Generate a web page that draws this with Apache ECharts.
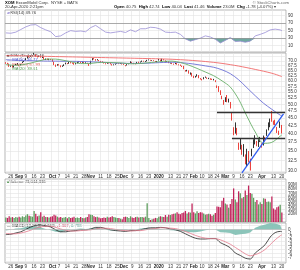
<!DOCTYPE html>
<html>
<head>
<meta charset="utf-8">
<script src="https://cdn.jsdelivr.net/npm/echarts@6.0.0/dist/echarts.min.js"></script>
<style>
  html, body { margin: 0; padding: 0; background: #fff; }
  #chart { width: 300px; height: 270px; }
</style>
</head>
<body>
<div id="chart"></div>
<script>
// trading calendar (weekends and these market holidays skipped)
const holidays = ['2019-09-02', '2019-11-28', '2019-12-25', '2020-01-01', '2020-01-20', '2020-02-17', '2020-04-10'];
function tradingDays (from, to) {
  const out = [];
  const d = new Date(from + 'T12:00:00Z');
  const end = new Date(to + 'T12:00:00Z');
  while (d <= end) {
    const s = d.toISOString().slice(0, 10);
    const wd = d.getUTCDay();
    if (wd !== 0 && wd !== 6 && holidays.indexOf(s) < 0) out.push(s);
    d.setUTCDate(d.getUTCDate() + 1);
  }
  return out;
}
const dates = tradingDays('2019-08-21', '2020-04-20');
const categories = dates.concat(['pad1', 'pad2']);

// bottom axis labels
const tickDates = ['2019-08-26', '2019-09-03', '2019-09-09', '2019-09-16', '2019-09-23', '2019-10-01', '2019-10-07', '2019-10-14', '2019-10-21', '2019-10-28',
  '2019-11-01', '2019-11-11', '2019-11-18', '2019-11-25', '2019-12-02', '2019-12-09', '2019-12-16', '2019-12-23', '2020-01-02', '2020-01-13',
  '2020-01-21', '2020-01-27', '2020-02-03', '2020-02-10', '2020-02-18', '2020-02-24', '2020-03-02', '2020-03-09', '2020-03-16', '2020-03-23',
  '2020-04-01', '2020-04-13', '2020-04-20']
const tickText = ['26', 'Sep', '9', '16', '23', 'Oct', '7', '14', '21', '28',
  'Nov', '11', '18', '25', 'Dec', '9', '16', '23', '2020', '13',
  '21', '27', 'Feb', '10', '18', '24', 'Mar', '9', '16', '23',
  'Apr', '13', '20']

const priceTicks = [30, 32.5, 35, 37.5, 40, 42.5, 45, 47.5, 50, 52.5, 55, 57.5, 60, 62.5, 65, 67.5, 70, 72.5]
const rsiTicks = [10, 30, 50, 70, 90]
const volTicks = [10, 20, 30, 40, 50, 60, 70, 80, 90, 100]
const macdTicks = [1, 0, -1, -2, -3, -4, -5, -6, -7, -8]

// daily prices
const opens = [
  68.9, 68.7, 68.2, 67.0, 67.6, 66.6, 67.8, 68.3, 67.9, 67.8,
  68.9, 69.5, 70.4, 71.4, 72.4, 72.3, 72.5, 74.2, 73.4, 72.5,
  72.2, 72.4, 71.6, 72.0, 70.6, 71.0, 70.9, 70.8, 70.7, 69.4,
  67.8, 67.6, 67.9, 67.5, 67.0, 67.4, 68.3, 68.5, 68.6, 69.1,
  68.9, 68.7, 68.3, 68.7, 69.1, 69.5, 69.0, 69.3, 68.6, 68.8,
  68.3, 68.2, 70.3, 71.1, 70.8, 70.5, 70.3, 69.8, 69.6, 68.9,
  68.6, 68.5, 68.9, 68.8, 68.1, 67.8, 68.0, 68.4, 68.5, 68.4,
  68.6, 68.2, 67.6, 67.7, 68.2, 68.9, 69.3, 68.8, 68.5, 68.4,
  69.3, 69.1, 69.5, 69.9, 69.5, 69.8, 70.3, 70.4, 70.1, 70.2,
  69.9, 69.3, 70.2, 70.0, 70.0, 70.8, 70.1, 69.6, 69.5, 68.8,
  68.9, 68.4, 68.3, 68.8, 67.8, 67.9, 67.3, 67.2, 65.0, 64.8,
  64.9, 63.0, 63.6, 62.2, 61.9, 62.1, 62.6, 61.1, 60.6, 60.8,
  61.6, 61.5, 61.1, 61.1, 60.9, 60.4, 60.2, 57.6, 57.4, 55.6,
  52.6, 50.5, 51.9, 52.9, 51.9, 50.9, 46.8, 40.7, 42.4, 41.4,
  37.0, 37.8, 34.8, 35.6, 33.6, 31.4, 34.4, 31.8, 34.0, 36.4,
  37.1, 37.6, 36.4, 38.4, 36.6, 36.7, 38.8, 39.6, 43.0, 42.1,
  45.6, 43.6, 44.2, 42.0, 40.2, 42.0, 40.75]
const closes = [
  68.6, 68.4, 66.9, 67.2, 66.7, 67.3, 68.1, 68.5, 67.4, 68.1,
  69.3, 69.6, 71.2, 72.3, 72.0, 72.6, 72.7, 73.6, 72.6, 72.1,
  72.6, 71.8, 72.0, 70.8, 71.0, 70.7, 70.7, 70.6, 69.6, 67.9,
  67.5, 68.0, 67.7, 66.7, 67.3, 67.9, 68.6, 68.4, 69.3, 68.8,
  68.6, 68.1, 68.6, 69.2, 69.6, 68.9, 69.4, 68.7, 68.9, 68.5,
  67.6, 69.8, 71.1, 70.9, 70.2, 70.4, 70.0, 69.6, 69.1, 68.7,
  68.3, 69.0, 68.7, 68.2, 67.7, 67.9, 68.3, 68.5, 68.4, 68.6,
  68.1, 68.0, 67.4, 68.0, 68.4, 69.5, 68.9, 68.4, 68.3, 69.2,
  68.9, 69.4, 69.9, 69.6, 69.7, 70.2, 70.5, 70.1, 70.1, 69.9,
  69.5, 69.8, 70.9, 70.3, 70.9, 70.3, 69.3, 69.5, 68.8, 68.8,
  68.3, 68.1, 68.7, 68.0, 67.9, 67.4, 66.9, 65.8, 64.7, 64.8,
  63.6, 63.8, 62.1, 61.5, 61.9, 62.9, 61.3, 60.9, 60.6, 61.5,
  61.8, 61.0, 61.1, 60.7, 60.6, 60.7, 59.8, 57.0, 55.3, 54.0,
  52.4, 51.4, 52.7, 51.1, 52.0, 48.9, 45.3, 40.9, 42.5, 39.8,
  35.6, 38.0, 34.5, 35.4, 32.1, 34.5, 32.4, 31.5, 35.4, 37.4,
  39.2, 36.5, 37.9, 38.0, 36.4, 38.9, 38.3, 40.9, 41.2, 44.5,
  44.0, 43.5, 43.0, 40.5, 40.4, 43.2, 41.46]
const highs = [
  69.2, 68.9, 68.5, 67.5, 67.7, 67.5, 68.3, 68.7, 68.0, 68.3,
  69.6, 69.9, 71.4, 72.5, 72.6, 72.8, 73.0, 74.4, 73.5, 72.7,
  72.9, 72.5, 72.3, 72.1, 71.2, 71.2, 71.1, 71.0, 70.9, 69.5,
  68.0, 68.2, 68.2, 67.6, 67.5, 68.1, 69.0, 68.8, 69.6, 69.3,
  69.1, 68.9, 68.8, 69.5, 69.8, 69.6, 69.6, 69.4, 69.2, 68.9,
  68.4, 70.0, 71.4, 71.6, 70.9, 70.9, 70.4, 69.9, 69.7, 69.1,
  68.7, 69.2, 69.1, 68.9, 68.2, 68.1, 68.5, 68.7, 68.7, 68.8,
  68.7, 68.4, 67.7, 68.2, 68.6, 69.7, 69.4, 68.9, 68.6, 69.4,
  69.5, 69.6, 70.1, 70.0, 69.9, 70.5, 70.7, 70.5, 70.3, 70.3,
  69.9, 69.9, 71.0, 70.6, 71.1, 70.9, 70.2, 69.8, 69.7, 69.0,
  68.9, 68.5, 68.9, 68.9, 68.1, 68.0, 67.4, 67.3, 65.2, 65.3,
  65.0, 64.0, 63.8, 62.4, 62.3, 63.1, 62.7, 61.3, 60.9, 61.7,
  62.0, 61.6, 61.4, 61.2, 61.0, 60.9, 60.3, 57.9, 57.6, 55.8,
  53.5, 51.8, 52.9, 53.8, 52.3, 51.0, 46.9, 42.0, 43.6, 41.8,
  37.3, 38.6, 36.7, 36.9, 34.1, 35.6, 35.0, 33.0, 35.6, 38.3,
  39.5, 37.8, 38.3, 39.0, 37.1, 39.4, 39.0, 41.3, 43.6, 44.9,
  47.6, 44.2, 44.5, 42.1, 40.9, 43.9, 42.74]
const lows = [
  68.4, 68.2, 66.8, 66.8, 66.5, 66.5, 67.7, 68.0, 67.2, 67.6,
  68.8, 69.3, 70.3, 71.2, 71.8, 72.1, 72.4, 73.3, 72.3, 71.8,
  72.0, 71.7, 71.5, 70.6, 70.4, 70.4, 70.3, 70.4, 69.5, 67.7,
  66.8, 67.4, 67.5, 66.6, 66.8, 67.2, 68.1, 68.2, 68.4, 68.6,
  68.4, 67.9, 68.1, 68.6, 69.0, 68.8, 68.9, 68.6, 68.5, 68.3,
  67.3, 68.1, 70.2, 70.7, 70.0, 70.2, 69.8, 69.4, 69.0, 68.5,
  68.1, 68.4, 68.5, 68.1, 67.5, 67.6, 67.9, 68.3, 68.2, 68.3,
  68.0, 67.8, 67.1, 67.5, 68.1, 68.8, 68.8, 68.2, 68.1, 68.3,
  68.8, 69.0, 69.4, 69.5, 69.4, 69.7, 70.2, 70.0, 69.9, 69.8,
  69.3, 69.2, 70.1, 69.8, 69.8, 70.2, 69.1, 69.3, 68.7, 68.5,
  68.2, 67.9, 68.2, 67.9, 67.6, 67.3, 66.7, 65.6, 64.4, 64.5,
  63.4, 62.9, 62.0, 61.3, 61.5, 62.0, 61.2, 60.6, 60.2, 60.7,
  61.4, 60.9, 60.8, 60.5, 60.4, 60.2, 59.4, 56.8, 55.1, 53.8,
  52.1, 49.9, 51.0, 50.9, 50.8, 48.5, 44.2, 39.5, 40.0, 39.5,
  35.3, 35.4, 34.0, 33.5, 31.6, 31.1, 32.1, 30.11, 33.6, 35.8,
  36.8, 36.3, 36.1, 37.5, 35.9, 36.5, 37.6, 39.3, 41.0, 42.0,
  43.8, 42.8, 42.7, 40.2, 39.6, 41.8, 40.04]
// volume, millions of shares
const volumes = [
  11, 10, 14, 11, 12, 10, 12, 11, 13, 11,
  14, 12, 16, 19, 15, 14, 13, 27, 20, 14,
  16, 24, 13, 15, 12, 12, 11, 13, 14, 18,
  16, 13, 11, 12, 10, 11, 12, 9, 12, 10,
  11, 13, 10, 11, 10, 12, 10, 9, 11, 12,
  19, 18, 17, 14, 12, 13, 11, 9, 10, 11,
  10, 13, 11, 12, 14, 12, 11, 10, 10, 8,
  7, 12, 13, 12, 10, 14, 11, 10, 12, 13,
  11, 12, 12, 11, 13, 46, 10, 5, 7, 8,
  10, 9, 13, 14, 13, 12, 17, 13, 18, 17,
  19, 20, 21, 24, 20, 19, 22, 23, 27, 21,
  24, 23, 45, 24, 21, 26, 22, 24, 23, 21,
  18, 19, 20, 19, 15, 18, 22, 38, 37, 36,
  52, 59, 45, 43, 35, 44, 56, 82, 55, 48,
  75, 70, 58, 61, 77, 66, 89, 71, 69, 59,
  49, 54, 43, 48, 44, 58, 57, 49, 50, 48,
  62, 33, 30, 36, 38, 42, 23]

// moving averages read every 5th / 10th session, last value on the final session
const ma50 = [70.6, 70.3, 70.1, 70.0, 69.9, 69.8, 69.8, 69.7, 69.7, 69.6, 69.5, 69.3, 69.1, 68.8, 68.7, 68.6, 68.6, 68.7,
  68.9, 69.1, 69.2, 69.0, 68.6, 68.0, 67.3, 66.6, 65.3, 63.4, 60.5, 56.9, 53.5, 50.5, 48.2, 46.1, 45.8]
const ma20 = [68.0, 67.6, 67.9, 68.8, 69.9, 70.9, 70.9, 70.2, 69.3, 68.5, 68.5, 69.0, 69.1, 69.0, 68.8, 68.4, 68.5, 68.9,
  69.3, 69.7, 69.8, 69.1, 67.7, 66.0, 64.2, 62.4, 60.0, 57.2, 52.1, 45.7, 40.5, 37.1, 37.4, 39.2, 39.6]
const ma200 = [72.8, 72.7, 72.5, 72.3, 72.1, 71.9, 71.7, 71.5, 71.3, 71.1, 70.8, 70.3, 69.6, 68.6, 67.2, 65.5, 63.6, 62.0]

// indicators read every 3rd session
const rsi = [44, 43, 46, 53, 60, 65, 66, 58, 52, 47,
  34, 36, 44, 50, 48, 49, 47, 58, 64, 55,
  46, 44, 46, 48, 45, 52, 47, 55, 55, 59,
  58, 54, 46, 45, 46, 40, 28, 22, 26, 30,
  36, 33, 27, 17, 24, 32, 21, 22, 19, 22,
  36, 40, 45, 52, 54, 52, 49.76]
const macd = [-1.3, -1.2, -0.9, -0.6, 0.0, 0.6, 1.0, 1.1, 0.9, 0.6,
  -0.1, -0.6, -0.6, -0.4, -0.3, -0.1, -0.1, 0.1, 0.5, 0.5,
  0.2, -0.1, -0.3, -0.4, -0.5, -0.3, -0.3, -0.1, 0.2, 0.4,
  0.4, 0.5, 0.4, 0.1, -0.1, -0.5, -1.1, -1.7, -2.2, -2.4,
  -2.4, -2.3, -2.3, -3.3, -3.9, -4.6, -5.9, -6.5, -7.2, -7.4,
  -5.9, -4.9, -3.8, -1.9, -0.8, -0.5, -0.569]
const signal = [-1.0, -1.1, -1.1, -0.9, -0.6, -0.2, 0.3, 0.6, 0.8, 0.8,
  0.5, 0.1, -0.2, -0.4, -0.4, -0.3, -0.2, -0.1, 0.1, 0.3,
  0.3, 0.2, 0.0, -0.2, -0.3, -0.4, -0.3, -0.3, -0.1, 0.1,
  0.2, 0.4, 0.4, 0.3, 0.2, -0.1, -0.5, -1.0, -1.5, -1.9,
  -2.2, -2.3, -2.3, -2.6, -3.1, -3.7, -4.5, -5.3, -6.1, -6.6,
  -6.3, -5.8, -5.0, -3.8, -2.6, -1.6, -1.367]
const hist = [-0.3, -0.1, 0.2, 0.3, 0.6, 0.8, 0.7, 0.5, 0.1, -0.2,
  -0.6, -0.7, -0.4, 0.0, 0.1, 0.2, 0.1, 0.2, 0.4, 0.2,
  -0.1, -0.3, -0.3, -0.2, -0.2, 0.1, 0.0, 0.2, 0.3, 0.3,
  0.2, 0.1, 0.0, -0.2, -0.3, -0.4, -0.6, -0.7, -0.7, -0.5,
  -0.2, 0.0, 0.0, -0.7, -0.8, -0.9, -1.4, -1.2, -1.1, -0.8,
  0.4, 0.9, 1.2, 1.6, 1.5, 1.1, 0.798]

const lastDay = dates.length - 1
function onDays (values, step) {
  return values.map((v, k) => [k === values.length - 1 ? lastDay : k * step, v])
}

const RED = '#e8140c'
const VOL_UP = '#5f9e5f'
const VOL_DN = '#c2255c'
const FONT = 'Liberation Sans'

const candles = dates.map((d, i) => {
  const prev = i ? closes[i - 1] : opens[i]
  const c = closes[i] < prev ? RED : '#000'
  return {
    value: [opens[i], closes[i], lows[i], highs[i]],
    itemStyle: { color: '#fff', color0: c, borderColor: c, borderColor0: c, borderWidth: 0.8 }
  }
})
const volBars = dates.map((d, i) => ({
  value: volumes[i],
  itemStyle: { color: (i && closes[i] < closes[i - 1]) ? VOL_DN : VOL_UP }
}))

function tag (value, text, color, bg, fg) {
  return {
    yAxis: value,
    lineStyle: { opacity: 0 },
    label: {
      show: true, position: 'end', distance: 1.5, formatter: text,
      color: fg || color, backgroundColor: bg || '#fff', borderColor: color, borderWidth: 0.6,
      padding: [0.5, 1, 0, 1], fontSize: 4.5, fontFamily: FONT
    }
  }
}
function marker (items) {
  return { silent: true, symbol: 'none', animation: false, data: items }
}

const isTick = (idx, value) => tickDates.indexOf(value) >= 0
const gridLine = { show: true, interval: isTick, lineStyle: { color: '#e3e3e3', width: 0.6 } }

const xAxes = [0, 1, 2, 3].map(i => ({
  type: 'category',
  gridIndex: i,
  data: categories,
  boundaryGap: true,
  axisLine: { show: false },
  axisTick: { show: false },
  splitLine: gridLine,
  axisLabel: {
    show: i === 1 || i === 3,
    interval: isTick,
    margin: 1.5,
    fontSize: 4.5,
    fontFamily: FONT,
    color: '#333',
    formatter: v => {
      const t = tickText[tickDates.indexOf(v)]
      return (isNaN(+t) || t === '2020') ? '{b|' + t + '}' : t
    },
    rich: { b: { fontWeight: 'bold', fontSize: 4.5, fontFamily: FONT, color: '#222' } }
  }
}))

function yAx (i, extra, ticks, fmt) {
  return Object.assign({
    gridIndex: i,
    position: 'right',
    axisLine: { show: false },
    axisTick: { show: false, customValues: ticks },
    splitLine: { show: true, customValues: ticks, lineStyle: { color: '#e3e3e3', width: 0.6 } },
    axisLabel: { customValues: ticks, fontSize: 4.5, fontFamily: FONT, color: '#333', margin: 2, formatter: fmt }
  }, extra)
}

const option = {
  animation: false,
  backgroundColor: '#fff',
  grid: [
    { left: 5, right: 14, top: 10, height: 42, show: true, borderColor: '#9a9a9a', borderWidth: 0.7 },
    { left: 5, right: 14, top: 53, height: 120, show: true, borderColor: '#9a9a9a', borderWidth: 0.7 },
    { left: 5, right: 14, top: 179, height: 43, show: true, borderColor: '#9a9a9a', borderWidth: 0.7 },
    { left: 5, right: 14, top: 223, height: 40, show: true, borderColor: '#9a9a9a', borderWidth: 0.7 }
  ],
  xAxis: xAxes,
  yAxis: [
    yAx(0, { type: 'value', min: -7, max: 105 }, rsiTicks, v => String(v)),
    yAx(1, { type: 'log', logBase: 10, min: 29.55, max: 74.3 }, priceTicks, v => v.toFixed(1)),
    yAx(2, { type: 'value', min: 0, max: 105 }, volTicks, v => v + 'M'),
    yAx(3, { type: 'value', min: -8.4, max: 1.6 }, macdTicks, v => String(v))
  ],
  series: [
    {
      name: 'rsiFill', type: 'line', xAxisIndex: 0, yAxisIndex: 0,
      data: onDays(rsi.map(v => Math.min(v, 30)), 3),
      showSymbol: false, lineStyle: { width: 0 },
      areaStyle: { origin: 30, color: '#5f9f96', opacity: 0.9 }
    },
    {
      name: 'RSI', type: 'line', xAxisIndex: 0, yAxisIndex: 0,
      data: onDays(rsi, 3), showSymbol: false,
      lineStyle: { color: '#9b8fd6', width: 0.8 },
      markLine: marker([
        { yAxis: 70, lineStyle: { color: '#8c8c8c', width: 0.7, type: 'solid' }, label: { show: false } },
        { yAxis: 30, lineStyle: { color: '#8c8c8c', width: 0.7, type: 'solid' }, label: { show: false } },
        tag(49.76, '49.76', '#9b8fd6', '#fff', '#333')
      ])
    },
    {
      name: 'MA200', type: 'line', xAxisIndex: 1, yAxisIndex: 1,
      data: onDays(ma200, 10), showSymbol: false, smooth: 0.3,
      lineStyle: { color: '#f06a6a', width: 0.9 },
      markLine: marker([tag(62.0, '61.93', '#e84a4a', '#fff', '#e84a4a')])
    },
    {
      name: 'MA50', type: 'line', xAxisIndex: 1, yAxisIndex: 1,
      data: onDays(ma50, 5), showSymbol: false, smooth: 0.3,
      lineStyle: { color: '#6b6fd6', width: 0.9 },
      markLine: marker([tag(46.77, '46.77', '#4b55d0', '#fff', '#4b55d0')])
    },
    {
      name: 'MA20', type: 'line', xAxisIndex: 1, yAxisIndex: 1,
      data: onDays(ma20, 5), showSymbol: false, smooth: 0.3,
      lineStyle: { color: '#6ab06a', width: 0.9 },
      markLine: marker([tag(39.6, '39.61', '#4f9a4f', '#fff', '#4f9a4f')])
    },
    {
      name: 'XOM', type: 'candlestick', xAxisIndex: 1, yAxisIndex: 1,
      data: candles, barWidth: 1.2,
      markLine: marker([
        [{ coord: ['2020-02-24', 47.2], lineStyle: { color: '#333', width: 1.4, type: 'solid' }, label: { show: false } }, { coord: ['pad2', 47.2] }],
        [{ coord: ['2020-03-06', 38.6], lineStyle: { color: '#333', width: 1.4, type: 'solid' }, label: { show: false } }, { coord: ['pad2', 38.6] }],
        [{ coord: ['2020-03-16', 29.6], lineStyle: { color: '#2f5cf0', width: 1.3, type: 'solid' }, label: { show: false } }, { coord: ['pad1', 46.5] }],
        tag(41.46, '41.46', '#e6a020', '#f7c84a', '#000')
      ])
    },
    {
      name: 'Volume', type: 'bar', xAxisIndex: 2, yAxisIndex: 2,
      data: volBars, barWidth: 1.3,
      markLine: marker([tag(23, '23.0M', '#555', '#fff', '#333')])
    },
    {
      name: 'Hist', type: 'line', xAxisIndex: 3, yAxisIndex: 3,
      data: onDays(hist, 3), showSymbol: false, lineStyle: { width: 0 },
      areaStyle: { origin: 0, color: '#7fbfb2', opacity: 0.9 },
      markLine: marker([
        { yAxis: 0, lineStyle: { color: '#b8b8b8', width: 0.6, type: 'solid' }, label: { show: false } },
        tag(0.798, '0.798', '#5fa596', '#fff', '#333')
      ])
    },
    {
      name: 'MACD', type: 'line', xAxisIndex: 3, yAxisIndex: 3,
      data: onDays(macd, 3), showSymbol: false, smooth: 0.3,
      lineStyle: { color: '#222', width: 0.8 },
      markLine: marker([tag(-0.569, '-0.569', '#222', '#fff', '#222')])
    },
    {
      name: 'Signal', type: 'line', xAxisIndex: 3, yAxisIndex: 3,
      data: onDays(signal, 3), showSymbol: false, smooth: 0.3,
      lineStyle: { color: '#e4788c', width: 0.8 },
      markLine: marker([tag(-1.367, '-1.367', '#e4788c', '#fff', '#d04060')])
    }
  ],
  graphic: [
    {
      type: 'text', x: 5, y: 1,
      style: {
        text: '{b|XOM} ExxonMobil Corp.  NYSE + BATS', fontSize: 4.2, fontFamily: FONT, fill: '#333',
        rich: { b: { fontWeight: 'bold', fontSize: 4.2, fontFamily: FONT, fill: '#000' } }
      }
    },
    { type: 'text', x: 5, y: 5.3, style: { text: '20-Apr-2020 2:21pm', fontSize: 4.2, fontFamily: FONT, fill: '#333' } },
    { type: 'text', x: 289, y: 1, style: { text: '© StockCharts.com', fontSize: 4.2, fontFamily: FONT, fill: '#666', align: 'right' } },
    {
      type: 'text', x: 276, y: 5.3,
      style: {
        text: '{b|Open} 40.75  {b|High} 42.74  {b|Low} 40.04  {b|Last} 41.46  {b|Volume} 23.0M  {b|Chg} -1.78 (-4.07%) ▾',
        fontSize: 4.2, fontFamily: FONT, fill: '#333', align: 'right',
        rich: { b: { fontWeight: 'bold', fontSize: 4.2, fontFamily: FONT, fill: '#000' } }
      }
    },
    {
      type: 'text', x: 7, y: 11,
      style: { text: '{s|▰}RSI(14) 49.76', fontSize: 4.2, fontFamily: FONT, fill: '#333', rich: { s: { fill: '#9b8fd6', fontSize: 4.2 } } }
    },
    {
      type: 'text', x: 7, y: 54,
      style: {
        text: '{k|■}XOM (Daily) 41.46\n{blu|— MA(50) 46.77}\n{red|— MA(200) 61.93}\n{grn|— MA(20) 39.61}',
        fontSize: 4.2, lineHeight: 4.2, fontFamily: FONT, fill: '#222',
        backgroundColor: 'rgba(255,255,255,0.85)',
        rich: {
          k: { fill: '#000', fontSize: 4.2 },
          blu: { fill: '#4b55d0', fontSize: 4.2, lineHeight: 4.2 },
          red: { fill: '#e84a4a', fontSize: 4.2, lineHeight: 4.2 },
          grn: { fill: '#4f9a4f', fontSize: 4.2, lineHeight: 4.2 }
        }
      }
    },
    {
      type: 'text', x: 7, y: 180,
      style: { text: '{g|■}Volume 23,044,336', fontSize: 4.2, fontFamily: FONT, fill: '#333', rich: { g: { fill: VOL_UP, fontSize: 4.2 } } }
    },
    {
      type: 'text', x: 7, y: 224,
      style: {
        text: '— MACD(12,26,9) -0.569, {r|-1.367}, {t|0.798}', fontSize: 4.2, fontFamily: FONT, fill: '#222',
        rich: { r: { fill: '#d04060', fontSize: 4.2 }, t: { fill: '#3f9585', fontSize: 4.2 } }
      }
    }
  ]
}

const chart = echarts.init(document.getElementById('chart'), null, { renderer: 'canvas' })
chart.setOption(option)
</script>
</body>
</html>
